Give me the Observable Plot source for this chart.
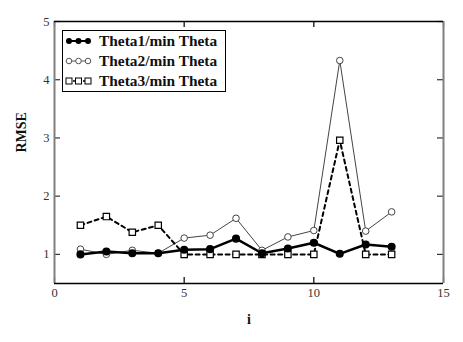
<!DOCTYPE html>
<html>
<head>
<meta charset="utf-8">
<script src="https://cdn.jsdelivr.net/npm/d3@7"></script>
<script src="https://cdn.jsdelivr.net/npm/@observablehq/plot@0.6"></script>
<style>
  body { margin: 0; background: #fff; }
  #wrap { position: relative; width: 463px; height: 342px; }
  #legend { position: absolute; left: 62px; top: 30px; width: 162px; height: 60px;
    border: 1.5px solid #000; background: #fff; box-sizing: content-box;
    font-family: "Liberation Serif", "Times New Roman", serif; font-weight: bold; font-size: 15.4px; color: #111; }
  .row { display: flex; align-items: center; height: 20px; }
  .row svg { margin-left: 2px; margin-right: 7px; }
</style>
</head>
<body>
<div id="wrap"></div>
<script>
const iValues = [1, 2, 3, 4, 5, 6, 7, 8, 9, 10, 11, 12, 13];
const theta1 = [1.00, 1.05, 1.02, 1.02, 1.08, 1.09, 1.27, 1.02, 1.10, 1.20, 1.01, 1.17, 1.13];
const theta2 = [1.09, 1.00, 1.07, 1.02, 1.28, 1.33, 1.62, 1.07, 1.30, 1.41, 4.33, 1.40, 1.73];
const theta3 = [1.50, 1.65, 1.38, 1.50, 1.00, 1.00, 1.00, 1.00, 1.00, 1.00, 2.96, 1.00, 1.00];
const seriesNames = ["Theta1/min Theta", "Theta2/min Theta", "Theta3/min Theta"];
const xTicks = [0, 5, 10, 15];
const yTicks = [1, 2, 3, 4, 5];
const xDomain = [0, 15];
const yDomain = [0.5, 5];

const toRows = (vals) => iValues.map((x, k) => ({x, y: vals[k]}));
const s1 = toRows(theta1), s2 = toRows(theta2), s3 = toRows(theta3);

const W = 463, H = 342, mL = 54, mR = 20, mT = 21, mB = 59;
const plotW = W - mL - mR, plotH = H - mT - mB;
const serif = "Liberation Serif, Times New Roman, serif";

const chart = Plot.plot({
  width: W, height: H,
  marginLeft: mL, marginRight: mR, marginTop: mT, marginBottom: mB,
  x: {domain: xDomain},
  y: {domain: yDomain},
  style: {fontFamily: serif, background: "#fff"},
  marks: [
    Plot.axisX({ticks: xTicks, tickFormat: d3.format("d"), tickSize: 0, tickPadding: 5, fontSize: 12.5, fill: "#333", label: null}),
    Plot.axisY({ticks: yTicks, tickFormat: d3.format("d"), tickSize: 0, tickPadding: 5, fontSize: 12.5, fill: "#333", label: null}),
    // inward tick marks
    Plot.tickX(xTicks, {x: d => d, insetTop: plotH - 6, stroke: "#000", strokeWidth: 1.2}),
    Plot.tickX(xTicks, {x: d => d, insetBottom: plotH - 6, stroke: "#000", strokeWidth: 1.2}),
    Plot.tickY(yTicks, {y: d => d, insetRight: plotW - 6, stroke: "#333", strokeWidth: 1.2}),
    Plot.tickY(yTicks, {y: d => d, insetLeft: plotW - 6, stroke: "#333", strokeWidth: 1.2}),
    // frame
    Plot.ruleX(xDomain, {x: d => d, stroke: "#808080", strokeWidth: 2}),
    Plot.ruleY(yDomain, {y: d => d, stroke: "#000", strokeWidth: 1.5}),
    // lines
    Plot.line(s2, {x: "x", y: "y", stroke: "#444", strokeWidth: 1}),
    Plot.line(s3, {x: "x", y: "y", stroke: "#000", strokeWidth: 2, strokeDasharray: "4,3.5"}),
    Plot.line(s1, {x: "x", y: "y", stroke: "#000", strokeWidth: 2.5}),
    // markers
    Plot.dot(s2, {x: "x", y: "y", r: 3.3, fill: "#fff", stroke: "#444", strokeWidth: 1}),
    Plot.dot(s3, {x: "x", y: "y", r: 3.6, symbol: "square", fill: "#fff", stroke: "#000", strokeWidth: 1.2}),
    Plot.dot(s1, {x: "x", y: "y", r: 3.3, fill: "#000", stroke: "#000"}),
    // axis titles
    Plot.text(["RMSE"], {frameAnchor: "left", dx: -33, rotate: -90, fontSize: 14, fontWeight: "bold", fill: "#111", text: d => d}),
    Plot.text(["i"], {frameAnchor: "bottom", dy: 40, fontSize: 14, fontWeight: "bold", fill: "#111", text: d => d})
  ]
});

const wrap = document.getElementById("wrap");
wrap.appendChild(chart);

// legend
const legend = document.createElement("div");
legend.id = "legend";
const symbolSvgs = [
  `<svg width="27" height="12"><line x1="3" y1="6" x2="24" y2="6" stroke="#000" stroke-width="2"/>
     <circle cx="4" cy="6" r="3" fill="#000"/><circle cx="13.5" cy="6" r="3" fill="#000"/><circle cx="23" cy="6" r="3" fill="#000"/></svg>`,
  `<svg width="27" height="12"><line x1="3" y1="6" x2="24" y2="6" stroke="#555" stroke-width="1"/>
     <circle cx="4" cy="6" r="2.8" fill="#fff" stroke="#555"/><circle cx="13.5" cy="6" r="2.8" fill="#fff" stroke="#555"/><circle cx="23" cy="6" r="2.8" fill="#fff" stroke="#555"/></svg>`,
  `<svg width="27" height="12"><line x1="3" y1="6" x2="24" y2="6" stroke="#000" stroke-width="1.5" stroke-dasharray="3,2"/>
     <rect x="1" y="3" width="6" height="6" fill="#fff" stroke="#000"/><rect x="10.5" y="3" width="6" height="6" fill="#fff" stroke="#000"/><rect x="20" y="3" width="6" height="6" fill="#fff" stroke="#000"/></svg>`
];
legend.innerHTML = seriesNames.map((name, k) =>
  `<div class="row">${symbolSvgs[k]}<span>${name}</span></div>`).join("");
wrap.appendChild(legend);
</script>
</body>
</html>
